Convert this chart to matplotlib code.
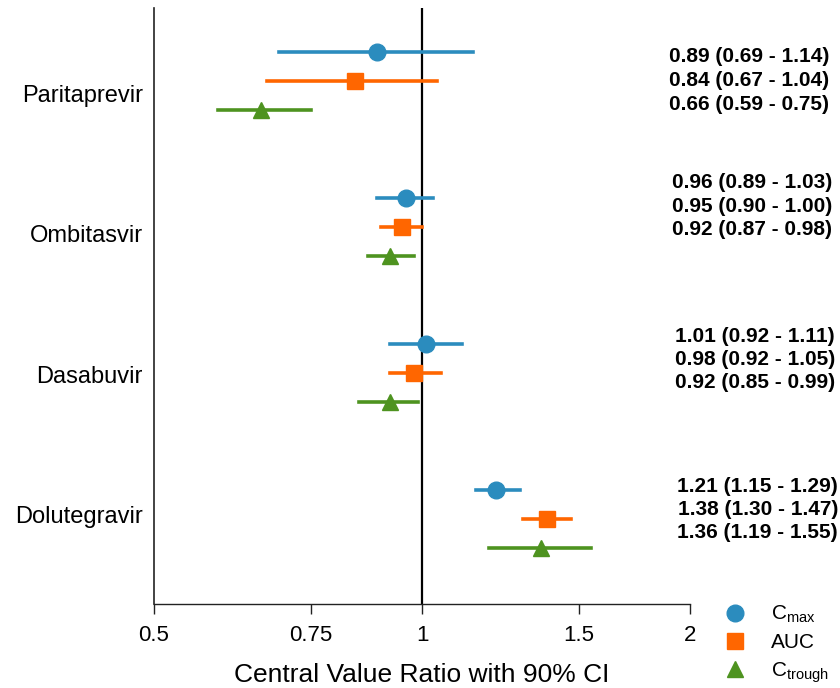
import matplotlib
matplotlib.use("Agg")
import matplotlib.pyplot as plt
from matplotlib.ticker import FixedLocator, FixedFormatter, NullLocator

plt.rcParams['font.family'] = ['Liberation Sans', 'DejaVu Sans']
plt.rcParams['mathtext.fontset'] = 'custom'
plt.rcParams['mathtext.rm'] = 'Liberation Sans'

# ---- data ----
drugs = ["Paritaprevir", "Ombitasvir", "Dasabuvir", "Dolutegravir"]
params = ["Cmax", "AUC", "Ctrough"]
legend_labels = [r"$\mathregular{C_{max}}$", "AUC", r"$\mathregular{C_{trough}}$"]

cmax_est = [0.89, 0.96, 1.01, 1.21]
cmax_lo = [0.69, 0.89, 0.92, 1.15]
cmax_hi = [1.14, 1.03, 1.11, 1.29]

auc_est = [0.84, 0.95, 0.98, 1.38]
auc_lo = [0.67, 0.90, 0.92, 1.30]
auc_hi = [1.04, 1.00, 1.05, 1.47]

ctr_est = [0.66, 0.92, 0.92, 1.36]
ctr_lo = [0.59, 0.87, 0.85, 1.19]
ctr_hi = [0.75, 0.98, 0.99, 1.55]

xticks = [0.5, 0.75, 1, 1.5, 2]
xticklabels = ["0.5", "0.75", "1", "1.5", "2"]

# ---- layout / style ----
W, H = 840, 688
colors = ["#2b8cbe", "#ff6600", "#4e9320"]
markers = ["o", "s", "^"]
msizes = [12, 11, 12]
group_top = 52      # px from top of figure for first row
group_step = 146
row_step = 29
label_y = [96, 236, 377, 517]
text_y0 = [57, 183, 336, 486]
text_step = 23.5
text_right = [829, 832, 835, 838]

fig = plt.figure(figsize=(W / 100, H / 100), dpi=100)
ax = fig.add_axes([154 / W, (H - 604) / H, (690 - 154) / W, (604 - 8) / H])
ax.set_xscale("log", base=2)
ax.set_xlim(0.5, 2)
ax.set_ylim(604, 8)

series = [(cmax_est, cmax_lo, cmax_hi), (auc_est, auc_lo, auc_hi), (ctr_est, ctr_lo, ctr_hi)]
handles = []
for r, (est, lo, hi) in enumerate(series):
    ys = [group_top + g * group_step + r * row_step for g in range(len(drugs))]
    ax.hlines(ys, lo, hi, colors=colors[r], lw=2.6, capstyle="projecting", zorder=2)
    h, = ax.plot(est, ys, linestyle="none", marker=markers[r], ms=msizes[r],
                 color=colors[r], mec=colors[r], zorder=3)
    handles.append(h)

ax.axvline(1, color="black", lw=1.6, zorder=1)

for s in ["top", "right"]:
    ax.spines[s].set_visible(False)
ax.spines["left"].set_linewidth(1.2)
ax.spines["bottom"].set_linewidth(1.0)
ax.spines["left"].set_color("#222222")
ax.spines["bottom"].set_color("#222222")

ax.xaxis.set_major_locator(FixedLocator(xticks))
ax.xaxis.set_major_formatter(FixedFormatter(xticklabels))
ax.xaxis.set_minor_locator(NullLocator())
ax.tick_params(axis="x", length=7, width=1.0, labelsize=16, pad=8, color="#222222")
ax.set_yticks([])

fig.text(422 / W, 1 - 675 / H, "Central Value Ratio with 90% CI", ha="center", va="center",
         fontsize=19)

for g, name in enumerate(drugs):
    fig.text(143 / W, 1 - label_y[g] / H, name, ha="right", va="center", fontsize=17)

for g in range(len(drugs)):
    for r, (est, lo, hi) in enumerate(series):
        s = f"{est[g]:.2f} ({lo[g]:.2f} - {hi[g]:.2f})"
        fig.text(text_right[g] / W, 1 - (text_y0[g] + r * text_step) / H, s,
                 ha="right", va="center", fontsize=15, fontweight="bold")

fig.legend(handles, legend_labels, loc="upper left", bbox_to_anchor=(722.5 / W, 1 - 604 / H),
           frameon=False, fontsize=15, handletextpad=1.13, labelspacing=0.38,
           borderpad=0, borderaxespad=0, handlelength=1.2)

fig.savefig("out.png", dpi=100)
